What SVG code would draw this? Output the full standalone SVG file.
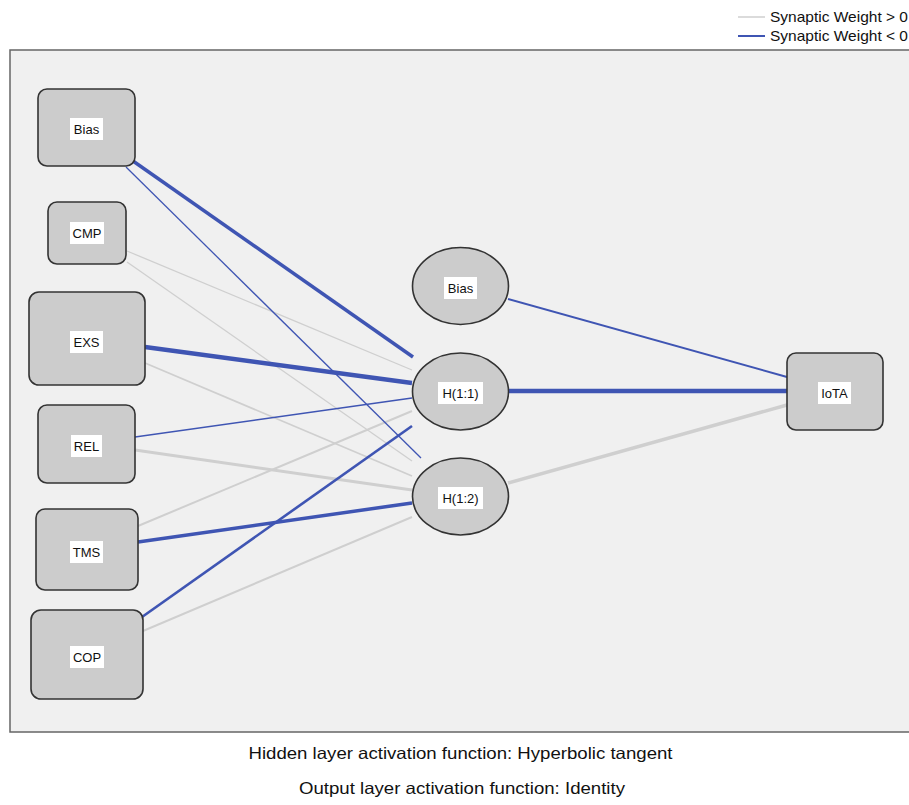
<svg xmlns="http://www.w3.org/2000/svg" width="909" height="805" viewBox="0 0 909 805">
<style>
text{font-family:"Liberation Sans",Arial,sans-serif;fill:#111}
.lbl{font-size:13px;text-anchor:middle}
.lb{fill:#fff}
.box{fill:#cccccc;stroke:#333;stroke-width:1.6}
.pos{stroke:#cfcfcf;fill:none}
.neg{stroke:#3f55b3;fill:none}
.cap{font-size:16.5px;text-anchor:middle}
.leg{font-size:15px}
</style>
<rect x="0" y="0" width="909" height="805" fill="#fff"/>
<g id="legend">
<line x1="738" y1="17" x2="765" y2="17" class="pos" stroke-width="1.5"/>
<text x="770" y="22" class="leg" textLength="138" lengthAdjust="spacingAndGlyphs">Synaptic Weight &gt; 0</text>
<line x1="738" y1="36" x2="765" y2="36" class="neg" stroke-width="2"/>
<text x="770" y="41" class="leg" textLength="138" lengthAdjust="spacingAndGlyphs">Synaptic Weight &lt; 0</text>
</g>
<g id="panel">
<rect x="10" y="50" width="905" height="682" fill="#f0f0f0" stroke="#666" stroke-width="1.5"/>
</g>
<g id="connectors">
<line x1="127" y1="251" x2="412" y2="370" class="pos" stroke-width="1.3"/>
<line x1="127" y1="262" x2="412" y2="461" class="pos" stroke-width="1.3"/>
<line x1="145" y1="363" x2="412" y2="476" class="pos" stroke-width="1.8"/>
<line x1="135" y1="450" x2="412" y2="490" class="pos" stroke-width="3"/>
<line x1="138" y1="526" x2="412" y2="411" class="pos" stroke-width="2"/>
<line x1="143" y1="631" x2="412" y2="517" class="pos" stroke-width="2"/>
<line x1="508" y1="483" x2="787" y2="405" class="pos" stroke-width="3.5"/>
<line x1="133" y1="161" x2="413" y2="357" class="neg" stroke-width="3.5"/>
<line x1="126" y1="167" x2="421" y2="458" class="neg" stroke-width="1.3"/>
<line x1="145" y1="347" x2="412" y2="383" class="neg" stroke-width="4.5"/>
<line x1="135" y1="437" x2="412" y2="398" class="neg" stroke-width="1.6"/>
<line x1="138" y1="542" x2="412" y2="503" class="neg" stroke-width="3.5"/>
<line x1="142" y1="617" x2="412" y2="426" class="neg" stroke-width="2.6"/>
<line x1="508" y1="299" x2="787" y2="377" class="neg" stroke-width="2"/>
<line x1="509" y1="391" x2="787" y2="391" class="neg" stroke-width="4.5"/>
</g>
<g id="in_bias">
<rect x="38" y="89" width="97" height="77" rx="9" class="box"/>
<rect x="70" y="118" width="33" height="22" class="lb"/>
<text x="86.5" y="134" class="lbl">Bias</text>
</g>
<g id="in_cmp">
<rect x="48" y="202" width="78" height="62" rx="9" class="box"/>
<rect x="70" y="222" width="34" height="22" class="lb"/>
<text x="87" y="238" class="lbl">CMP</text>
</g>
<g id="in_exs">
<rect x="29" y="292" width="116" height="93" rx="10" class="box"/>
<rect x="70" y="331" width="33" height="22" class="lb"/>
<text x="86.5" y="347" class="lbl">EXS</text>
</g>
<g id="in_rel">
<rect x="38" y="405" width="97" height="78" rx="9" class="box"/>
<rect x="71" y="435" width="31" height="22" class="lb"/>
<text x="86.5" y="451" class="lbl">REL</text>
</g>
<g id="in_tms">
<rect x="36" y="509" width="102" height="81" rx="9" class="box"/>
<rect x="70" y="541" width="33" height="22" class="lb"/>
<text x="86.5" y="557" class="lbl">TMS</text>
</g>
<g id="in_cop">
<rect x="31" y="610" width="112" height="89" rx="10" class="box"/>
<rect x="70" y="646" width="34" height="22" class="lb"/>
<text x="87" y="662" class="lbl">COP</text>
</g>
<g id="h_bias">
<ellipse cx="460.5" cy="286" rx="48" ry="38.5" class="box"/>
<rect x="444" y="277" width="33" height="22" class="lb"/>
<text x="460.5" y="293" class="lbl">Bias</text>
</g>
<g id="h11">
<ellipse cx="460.5" cy="391.5" rx="48" ry="38.5" class="box"/>
<rect x="438" y="382" width="45" height="22" class="lb"/>
<text x="460.5" y="398" class="lbl">H(1:1)</text>
</g>
<g id="h12">
<ellipse cx="460.5" cy="496.5" rx="48" ry="38.5" class="box"/>
<rect x="438" y="487" width="45" height="22" class="lb"/>
<text x="460.5" y="503" class="lbl">H(1:2)</text>
</g>
<g id="out_iota">
<rect x="787" y="353" width="96" height="77" rx="9" class="box"/>
<rect x="818" y="382" width="33" height="22" class="lb"/>
<text x="834.5" y="398" class="lbl">IoTA</text>
</g>
<g id="captions">
<text x="460.5" y="759" class="cap" textLength="424" lengthAdjust="spacingAndGlyphs">Hidden layer activation function: Hyperbolic tangent</text>
<text x="462" y="794" class="cap" textLength="326" lengthAdjust="spacingAndGlyphs">Output layer activation function: Identity</text>
</g>
</svg>
